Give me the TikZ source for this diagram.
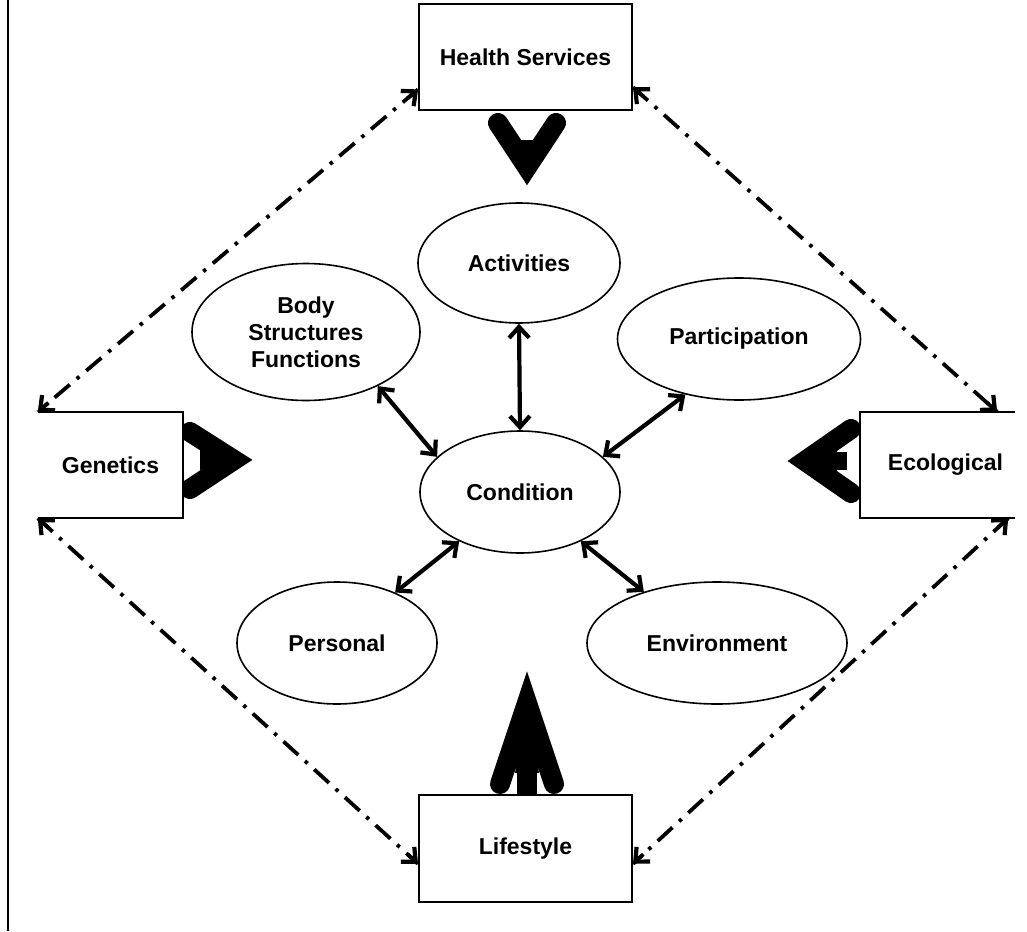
\documentclass[tikz,border=0pt]{standalone}
\usepackage{fontspec}
\setmainfont{Liberation Sans}
\usetikzlibrary{arrows.meta,shapes.geometric,calc}
\begin{document}
\begin{tikzpicture}[x=1pt,y=-1pt,
  lbl/.style={font=\fontsize{23}{27}\selectfont\bfseries},
  oval/.style={ellipse, draw, line width=1.6pt, fill=white, inner sep=0pt, lbl, align=center},
  box/.style={rectangle, draw, line width=2pt, fill=white, inner sep=0pt, lbl},
  openbox/.style={rectangle, fill=white, inner sep=0pt, lbl},
  edgeline/.style={line width=2pt},
  tipb/.tip={Straight Barb[length=11pt,width=20pt,line width=4.2pt]},
  link/.style={line width=4.2pt, tipb-tipb},
  dd/.style={line width=3.8pt, dash pattern=on 20pt off 9pt on 3.5pt off 9pt},
  ddtip/.style={line width=3.8pt, -tipb},
  chev/.style={line width=20pt, line cap=round, line join=miter}]

\useasboundingbox (0,0) rectangle (1027,931);
\draw[line width=2.5pt] (8,0) -- (8,931);

% thick chevron arrows
\draw[chev] (498,123) -- (527,167) -- (556,123);
\fill (527,180) -- (519,140) -- (535,140) -- cycle;
\draw[chev] (190,432) -- (234,460) -- (190,489);
\fill (245,460) -- (200,450) -- (200,470) -- cycle;
\draw[chev] (851,429) -- (805,461) -- (851,493);
\fill (795,461) -- (837,451) -- (837,471) -- cycle;
\fill (837,452) rectangle (847,470);
\draw[chev] (500,784) -- (527,703) -- (554,784);
\fill (527,690) -- (515,773) -- (539,773) -- cycle;
\fill (517,773) rectangle (537,795);

% boxes
\node[box, minimum width=213pt, minimum height=106pt] (hs) at (525.5,57) {Health Services};
\node[box, minimum width=213pt, minimum height=107pt] (ls) at (525.5,848.5) {Lifestyle};
\node[openbox, minimum width=145pt, minimum height=106pt] (gen) at (110.5,465) {Genetics\hspace{20pt}};
\draw[edgeline] (gen.north west) -- (gen.north east) -- (gen.south east) -- (gen.south west);
\node[openbox, minimum width=155pt, minimum height=106pt] (eco) at (937.5,465) {\hspace{16pt}Ecological};
\draw[edgeline] (eco.north east) -- (eco.north west) -- (eco.south west) -- (eco.south east);

% ellipses
\node[oval, minimum width=202pt, minimum height=120pt] (act) at (519,263) {Activities};
\node[oval, minimum width=228pt, minimum height=137pt] (body) at (306,332) {Body\\Structures\\Functions};
\node[oval, minimum width=243pt, minimum height=122pt] (part) at (739,339) {Participation};
\node[oval, minimum width=200pt, minimum height=122pt] (cond) at (520,492) {Condition};
\node[oval, minimum width=200pt, minimum height=122pt] (pers) at (337,643) {Personal};
\node[oval, minimum width=260pt, minimum height=122pt] (env) at (717,643) {Environment};

% links to condition
\draw[link] (act.south) -- (cond.north);
\draw[link] (body.-37) -- (cond.157);
\draw[link] (part.-134) -- (cond.23);
\draw[link] (pers.41) -- (cond.-141);
\draw[link] (env.145) -- (cond.-39);

% end points of the dash-dot links
\coordinate (hsL) at ($(hs.south west)!0.2!(hs.north west)$);
\coordinate (hsR) at ($(hs.south east)!0.22!(hs.north east)$);
\coordinate (genT) at (gen.north west);
\coordinate (genB) at (gen.south west);
\coordinate (ecoT) at ($(eco.north west)!0.884!(eco.north east)$);
\coordinate (ecoB) at ($(eco.south west)!0.955!(eco.south east)$);
\coordinate (lsL) at ($(ls.south west)!0.36!(ls.north west)$);
\coordinate (lsR) at ($(ls.south east)!0.36!(ls.north east)$);

% dash-dot links between outer boxes (solid tips)
\foreach \a/\b in {hsL/genT, hsR/ecoT, genB/lsL, ecoB/lsR}{
  \draw[dd] (\a) -- (\b);
  \draw[ddtip] ($(\a)!14pt!(\b)$) -- (\a);
  \draw[ddtip] ($(\b)!14pt!(\a)$) -- (\b);
}
\end{tikzpicture}
\end{document}
